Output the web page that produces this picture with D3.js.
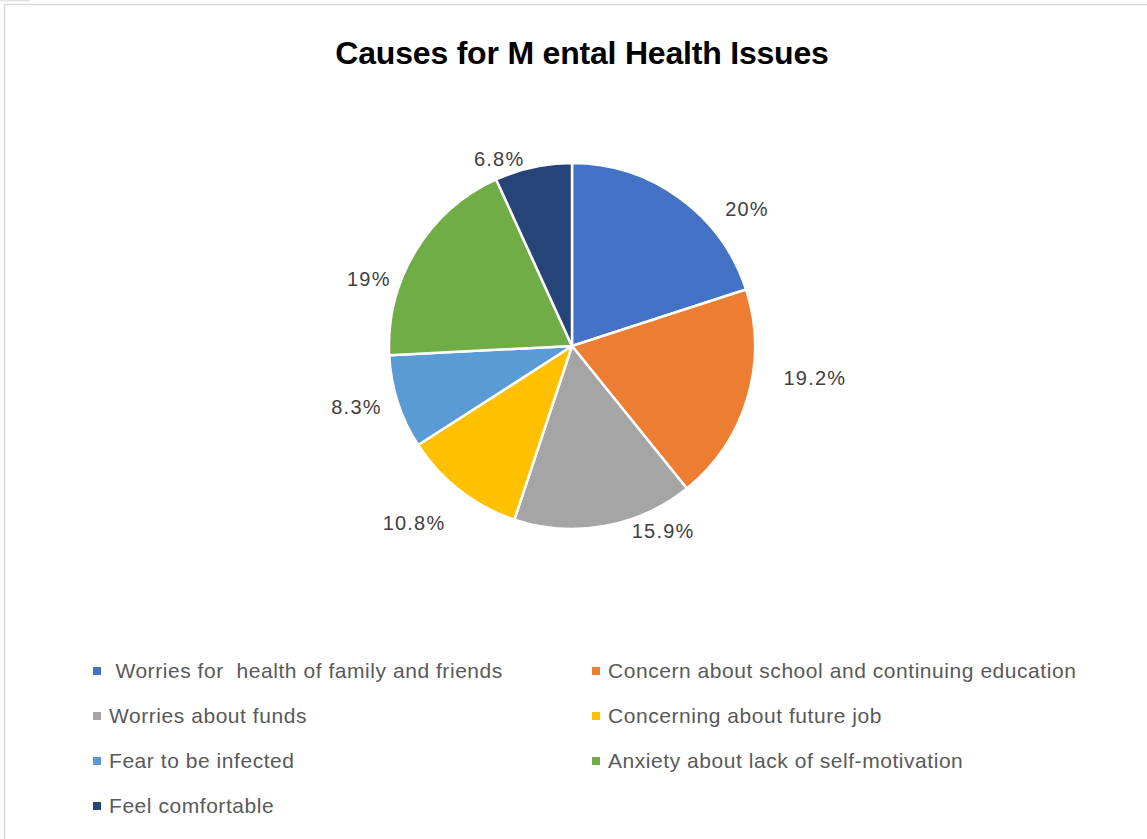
<!DOCTYPE html>
<html>
<head>
<meta charset="utf-8">
<script src="https://cdn.jsdelivr.net/npm/d3@7"></script>
<style>
  body { margin: 0; background: #fff; }
  svg { display: block; font-family: "Liberation Sans", Arial, sans-serif; }
</style>
</head>
<body>
<svg id="chart" width="1147" height="839"></svg>
<script>
//Chart data
const categories = [
  " Worries for  health of family and friends",
  "Concern about school and continuing education",
  "Worries about funds",
  "Concerning about future job",
  "Fear to be infected",
  "Anxiety about lack of self-motivation",
  "Feel comfortable"
];
const values = [20, 19.2, 15.9, 10.8, 8.3, 19, 6.8];
const valueLabels = ["20%", "19.2%", "15.9%", "10.8%", "8.3%", "19%", "6.8%"];
const colors = ["#4472C4", "#ED7D31", "#A5A5A5", "#FFC000", "#5B9BD5", "#70AD47", "#264478"];

//Label placement tweaks (degrees from slice middle, distance from center)
const labelNudge = [16, -9, -16, 4, 2, -13, -9];
const labelDist = [222, 245, 206, 237, 224, 214, 201];

const svg = d3.select("#chart");
const width = 1147, height = 839;
const cx = 572, cy = 346, radius = 183;

//Chart area border
svg.append("rect")
  .attr("x", 4.5).attr("y", 4.5)
  .attr("width", width + 10).attr("height", height + 10)
  .attr("fill", "#fff")
  .attr("stroke", "#d9d9d9")
  .attr("stroke-width", 1.5);

svg.append("rect")
  .attr("x", 0).attr("y", 0).attr("width", 30).attr("height", 1.5)
  .attr("fill", "#e3e3e3");

//Title
svg.append("text")
  .attr("x", 582).attr("y", 64)
  .attr("text-anchor", "middle")
  .attr("font-size", 32)
  .attr("font-weight", "bold")
  .attr("fill", "#000")
  .attr("letter-spacing", "-0.2")
  .text("Causes for M ental Health Issues");

//Pie
const pie = d3.pie().sort(null).value(d => d);
const arc = d3.arc().innerRadius(0).outerRadius(radius);
const arcs = pie(values);

const g = svg.append("g").attr("transform", `translate(${cx},${cy})`);

g.selectAll("path")
  .data(arcs)
  .enter()
  .append("path")
  .attr("d", arc)
  .attr("fill", (d, i) => colors[i])
  .attr("stroke", "#fff")
  .attr("stroke-width", 2.5)
  .attr("stroke-linejoin", "round");

g.selectAll(".pct")
  .data(arcs)
  .enter()
  .append("text")
  .attr("class", "pct")
  .attr("transform", (d, i) => {
    const a = (d.startAngle + d.endAngle) / 2 + labelNudge[i] * Math.PI / 180;
    const r = labelDist[i];
    return `translate(${Math.sin(a) * r},${-Math.cos(a) * r})`;
  })
  .attr("text-anchor", "middle")
  .attr("dy", "0.35em")
  .attr("font-size", 20)
  .attr("fill", "#404040")
  .attr("letter-spacing", "1.2")
  .text((d, i) => valueLabels[i]);

//Legend
const colX = [93, 592];
const rowY = d3.scaleLinear().domain([0, 3]).range([671, 806]);

const legend = svg.append("g")
  .selectAll("g")
  .data(categories)
  .enter()
  .append("g")
  .attr("transform", (d, i) => `translate(${colX[i % 2]},${rowY(Math.floor(i / 2))})`);

legend.append("rect")
  .attr("x", 0).attr("y", -4)
  .attr("width", 8).attr("height", 8)
  .attr("fill", (d, i) => colors[i]);

legend.append("text")
  .attr("x", 16)
  .attr("dy", "0.35em")
  .attr("font-size", 21)
  .attr("fill", "#595959")
  .attr("letter-spacing", "0.55")
  .attr("xml:space", "preserve")
  .style("white-space", "pre")
  .text(d => d);
</script>
</body>
</html>
